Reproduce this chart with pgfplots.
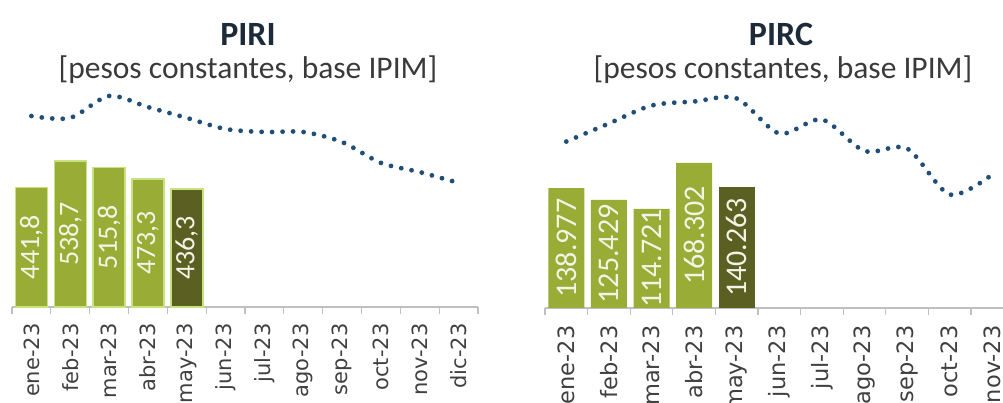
\documentclass[border=0pt]{standalone}
\usepackage{fontspec}
\setmainfont{Carlito}
\newfontfamily\tickfont{DejaVu Sans}
\usepackage{pgfplots}
\pgfplotsset{compat=1.18}

\definecolor{olive}{HTML}{99AC36}
\definecolor{darkolive}{HTML}{5B5F22}
\definecolor{barline}{HTML}{C8E27F}
\definecolor{navy}{HTML}{1F4E79}
\definecolor{ticktext}{HTML}{404040}
\definecolor{axisgray}{HTML}{BFBFBF}
\definecolor{labtext}{HTML}{F2F5E6}
\definecolor{titletext}{HTML}{1C2A39}
\definecolor{subtext}{HTML}{3A3A3A}

\pgfplotsset{
  monthaxis/.style={
    anchor=south west, scale only axis,
    xmin=-0.5, xmax=11.5, ymin=0,
    axis x line*=bottom, axis y line=none,
    x axis line style={-, draw=axisgray, line width=1.5pt},
    xtick={0,...,11},
    xticklabels={ene-23,feb-23,mar-23,abr-23,may-23,jun-23,jul-23,ago-23,sep-23,oct-23,nov-23,dic-23},
    major tick length=0pt,
    minor xtick={-0.5,0.5,...,11.5},
    minor tick length=7pt,
    tick align=outside,
    every minor tick/.append style={draw=axisgray, line width=1.2pt},
    ytick=\empty,
    clip=false,
  },
  dotline/.style={smooth, navy, line width=4.8pt, line cap=round, dash pattern=on 0pt off 10.5pt},
}

\begin{document}
\begin{tikzpicture}
\begin{scope}
\clip (0pt,0pt) rectangle (1003pt,403pt);

% ---- PIRI ----
\begin{axis}[monthaxis,
    at={(12pt,96pt)}, width=466pt, height=217pt, ymax=801,
    xticklabel style={rotate=90, anchor=east, font=\tickfont\fontsize{21}{21}\selectfont, text=ticktext},
    xticklabel shift=13pt]
  \addplot[ybar, bar shift=0pt, bar width=32pt, fill=olive, draw=barline, line width=1.5pt]
    coordinates {(0,441.8) (1,538.7) (2,515.8) (3,473.3)};
  \addplot[ybar, bar shift=0pt, bar width=32pt, fill=darkolive, draw=barline, line width=1.5pt]
    coordinates {(4,436.3)};
  \addplot[dotline]
    coordinates {(0,705) (1,698) (2,779) (3,738) (4,698) (5,657) (6,646)
                 (7,646) (8,609) (9,532) (10,498) (11,458)};
  \addplot[draw=none, nodes near coords, point meta=explicit symbolic,
    every node near coord/.append style={rotate=90, anchor=center,
      font=\fontsize{28}{28}\selectfont, text=labtext}]
    table[meta=lab] {
      x y lab
      0 220.9 441,8
      1 269.4 538,7
      2 257.9 515,8
      3 236.7 473,3
      4 218.2 436,3
    };
\end{axis}

% ---- PIRC ----
\begin{axis}[monthaxis,
    at={(545pt,95pt)}, width=511.2pt, height=238pt, ymax=275.8,
    xticklabel style={rotate=90, anchor=east, font=\tickfont\fontsize{22.5}{22.5}\selectfont, text=ticktext},
    xticklabel shift=14pt]
  \addplot[ybar, bar shift=0pt, bar width=36pt, fill=olive, draw=none]
    coordinates {(0,138.977) (1,125.429) (2,114.721) (3,168.302)};
  \addplot[ybar, bar shift=0pt, bar width=36pt, fill=darkolive, draw=none]
    coordinates {(4,140.263)};
  \addplot[dotline]
    coordinates {(0,192.9) (1,213.8) (2,234.6) (3,239.3) (4,242.8) (5,202.2)
                 (6,218.4) (7,181.9) (8,184.8) (9,131.5) (10,154.7)};
  \addplot[draw=none, nodes near coords, point meta=explicit symbolic,
    every node near coord/.append style={rotate=90, anchor=center,
      font=\fontsize{30}{30}\selectfont, text=labtext}]
    table[meta=lab] {
      x y lab
      0 69.5 138.977
      1 62.7 125.429
      2 57.4 114.721
      3 84.2 168.302
      4 70.1 140.263
    };
\end{axis}

% ---- titles ----
\node[font=\fontsize{34}{34}\selectfont\bfseries, text=titletext] at (248pt,369pt) {PIRI};
\node[font=\fontsize{31.5}{31.5}\selectfont, text=subtext] at (248pt,333pt) {[pesos constantes, base IPIM]};
\node[font=\fontsize{34}{34}\selectfont\bfseries, text=titletext] at (781pt,369pt) {PIRC};
\node[font=\fontsize{31.5}{31.5}\selectfont, text=subtext] at (783pt,333pt) {[pesos constantes, base IPIM]};
\end{scope}
\pgfresetboundingbox
\useasboundingbox (0pt,0pt) rectangle (1003pt,403pt);
\end{tikzpicture}
\end{document}
